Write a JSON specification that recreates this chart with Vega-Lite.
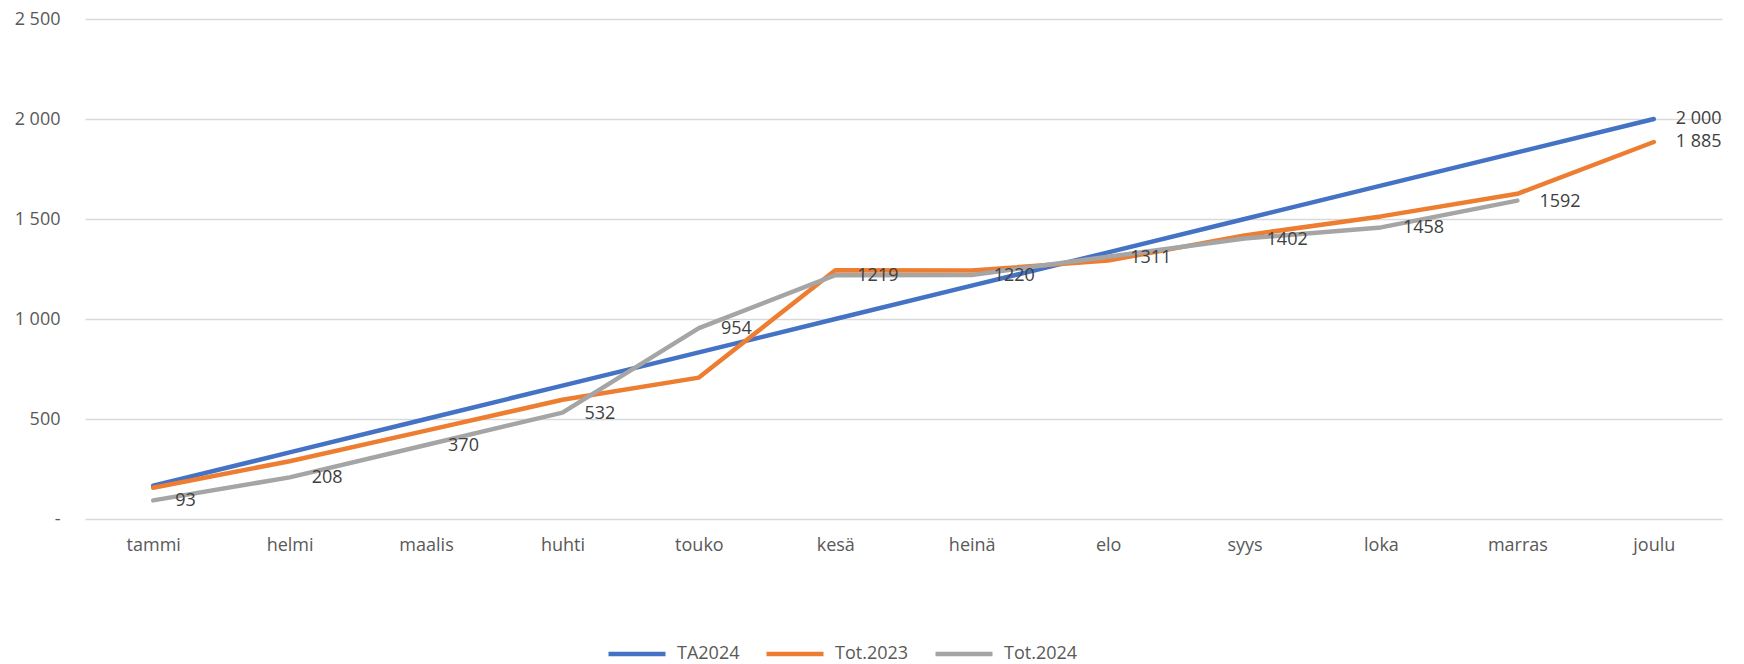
{
  "$schema": "https://vega.github.io/schema/vega-lite/v6.json",
  "autosize": {"type": "none"},
  "width": 1637,
  "height": 500,
  "padding": {"left": 85, "top": 19, "right": 22, "bottom": 145},
  "background": "white",
  "config": {
    "locale": {"number": {"decimal": ",", "thousands": " ", "grouping": [3], "currency": ["", " €"]}},
    "view": {"stroke": null},
    "font": "Open Sans"
  },
  "data": {"values": [
    {"month": "tammi", "series": "TA2024", "value": 167},
    {"month": "helmi", "series": "TA2024", "value": 333},
    {"month": "maalis", "series": "TA2024", "value": 500},
    {"month": "huhti", "series": "TA2024", "value": 667},
    {"month": "touko", "series": "TA2024", "value": 833},
    {"month": "kesä", "series": "TA2024", "value": 1000},
    {"month": "heinä", "series": "TA2024", "value": 1167},
    {"month": "elo", "series": "TA2024", "value": 1333},
    {"month": "syys", "series": "TA2024", "value": 1500},
    {"month": "loka", "series": "TA2024", "value": 1667},
    {"month": "marras", "series": "TA2024", "value": 1833},
    {"month": "joulu", "series": "TA2024", "value": 2000, "last": true},
    {"month": "tammi", "series": "Tot.2023", "value": 156},
    {"month": "helmi", "series": "Tot.2023", "value": 289},
    {"month": "maalis", "series": "Tot.2023", "value": 442},
    {"month": "huhti", "series": "Tot.2023", "value": 596},
    {"month": "touko", "series": "Tot.2023", "value": 707},
    {"month": "kesä", "series": "Tot.2023", "value": 1244},
    {"month": "heinä", "series": "Tot.2023", "value": 1242},
    {"month": "elo", "series": "Tot.2023", "value": 1292},
    {"month": "syys", "series": "Tot.2023", "value": 1418},
    {"month": "loka", "series": "Tot.2023", "value": 1513},
    {"month": "marras", "series": "Tot.2023", "value": 1626},
    {"month": "joulu", "series": "Tot.2023", "value": 1885, "last": true},
    {"month": "tammi", "series": "Tot.2024", "value": 93},
    {"month": "helmi", "series": "Tot.2024", "value": 208},
    {"month": "maalis", "series": "Tot.2024", "value": 370},
    {"month": "huhti", "series": "Tot.2024", "value": 532},
    {"month": "touko", "series": "Tot.2024", "value": 954},
    {"month": "kesä", "series": "Tot.2024", "value": 1219},
    {"month": "heinä", "series": "Tot.2024", "value": 1220},
    {"month": "elo", "series": "Tot.2024", "value": 1311},
    {"month": "syys", "series": "Tot.2024", "value": 1402},
    {"month": "loka", "series": "Tot.2024", "value": 1458},
    {"month": "marras", "series": "Tot.2024", "value": 1592}
  ]},
  "encoding": {
    "x": {
      "field": "month", "type": "ordinal",
      "sort": ["tammi", "helmi", "maalis", "huhti", "touko", "kesä", "heinä", "elo", "syys", "loka", "marras", "joulu"],
      "scale": {"type": "point", "padding": 0.5},
      "axis": {"title": null, "domain": false, "ticks": false, "grid": false, "labelAngle": 0, "labelPadding": 17, "labelFontSize": 18, "labelColor": "#595959"}
    },
    "y": {
      "field": "value", "type": "quantitative",
      "scale": {"domain": [0, 2500], "nice": false},
      "axis": {"title": null, "domain": false, "ticks": false, "values": [0, 500, 1000, 1500, 2000, 2500], "format": ",d", "labelExpr": "datum.value == 0 ? '-' : datum.label", "labelOverlap": false, "labelPadding": 25, "labelFontSize": 18, "labelColor": "#595959", "gridColor": "#d9d9d9", "gridWidth": 1.5}
    }
  },
  "layer": [
    {
      "mark": {"type": "line", "strokeWidth": 4.5, "strokeCap": "round", "strokeJoin": "round"},
      "encoding": {
        "color": {
          "field": "series", "type": "nominal",
          "scale": {"domain": ["TA2024", "Tot.2023", "Tot.2024"], "range": ["#4472C4", "#ED7D31", "#A5A5A5"]},
          "legend": {"title": null, "orient": "none", "direction": "horizontal", "legendX": 521, "legendY": 604, "padding": 0, "symbolType": "stroke", "symbolSize": 3249, "symbolStrokeWidth": 4.5, "labelFontSize": 18, "labelColor": "#595959", "columnPadding": 17, "labelOffset": 9}
        }
      }
    },
    {
      "transform": [{"filter": "datum.series == 'Tot.2024'"}],
      "mark": {"type": "text", "align": "left", "baseline": "middle", "dx": 22, "dy": 1, "fontSize": 18, "color": "#404040"},
      "encoding": {"text": {"field": "value", "type": "quantitative", "format": "d"}}
    },
    {
      "transform": [{"filter": "datum.last == true"}],
      "mark": {"type": "text", "align": "left", "baseline": "middle", "dx": 22, "fontSize": 18, "color": "#404040"},
      "encoding": {"text": {"field": "value", "type": "quantitative", "format": ",d"}}
    }
  ]
}
